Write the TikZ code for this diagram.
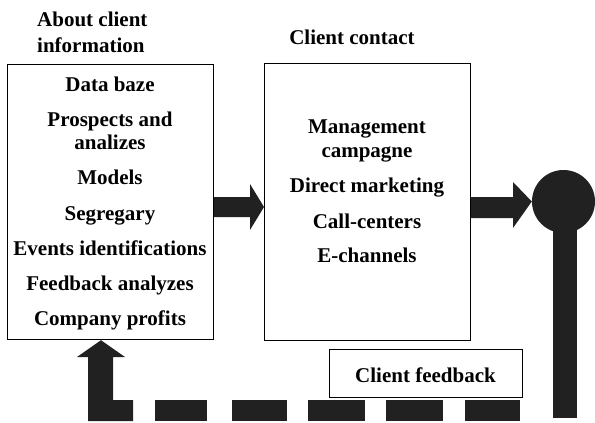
\documentclass[tikz,border=0pt]{standalone}
\usepackage{fontspec}
\setmainfont{Liberation Serif}[BoldFont={Liberation Serif Bold}]
\begin{document}
\begin{tikzpicture}[x=1pt,y=-1pt,
  txt/.style={font=\bfseries\fontsize{21}{25}\selectfont, anchor=base, inner sep=0pt},
  panel/.style={draw=black, line width=1.2pt, inner sep=0pt, anchor=north west},
  blk/.style={fill=black!87}]
\useasboundingbox (0,0) rectangle (595,423);

% boxes
\node[panel, minimum width=206pt, minimum height=275pt] (info) at (7,64) {};
\node[panel, minimum width=206pt, minimum height=277pt] (contact) at (264,63) {};
\node[panel, minimum width=193pt, minimum height=48pt] (fbbox) at (329,349) {};
\node[circle, blk, minimum size=63pt, inner sep=0pt] (hub) at (563.5,201.5) {};

% titles
\node[txt, anchor=base west] (t1) at (37,27) {About client};
\node[txt, anchor=base west] (t2) at (37,52) {information};
\node[txt] (t3) at (352,45) {Client contact};

% left box items
\node[txt] (a1) at (110,91) {Data baze};
\node[txt] (a2) at (110,126) {Prospects and};
\node[txt] (a3) at (110,149) {analizes};
\node[txt] (a4) at (110,184) {Models};
\node[txt] (a5) at (110,220) {Segregary};
\node[txt] (a6) at (110,255) {Events identifications};
\node[txt] (a7) at (110,290) {Feedback analyzes};
\node[txt] (a8) at (110,325) {Company profits};

% middle box items
\node[txt] (b1) at (367,133) {Management};
\node[txt] (b2) at (367,157) {campagne};
\node[txt] (b3) at (367,192) {Direct marketing};
\node[txt] (b4) at (367,228) {Call-centers};
\node[txt] (b5) at (367,262) {E-channels};

\node[txt] (fb) at (425.5,382) {Client feedback};

% arrow info -> contact
\fill[blk] (info.east |- 0,197) -- (250,197) -- (250,184) -- (contact.west |- 0,207)
  -- (250,230) -- (250,217) -- (info.east |- 0,217) -- cycle;
% arrow contact -> hub
\fill[blk] (contact.east |- 0,197) -- (513,197) -- (513,182) -- (hub.west)
  -- (513,228) -- (513,218) -- (contact.east |- 0,218) -- cycle;
% vertical bar down from hub
\fill[blk] (553,215) rectangle (577,418);
% dashed feedback line
\foreach \a/\b in {155/207,232/287,308/365,386/443,465/520}
  \fill[blk] (\a,400) rectangle (\b,421);
% L-shaped up arrow back to info
\fill[blk] (88,421) -- (88,357) -- (77,357) -- (info.south -| 101,0) -- (125,357)
  -- (113,357) -- (113,400) -- (133,400) -- (133,421) -- cycle;
\end{tikzpicture}
\end{document}
